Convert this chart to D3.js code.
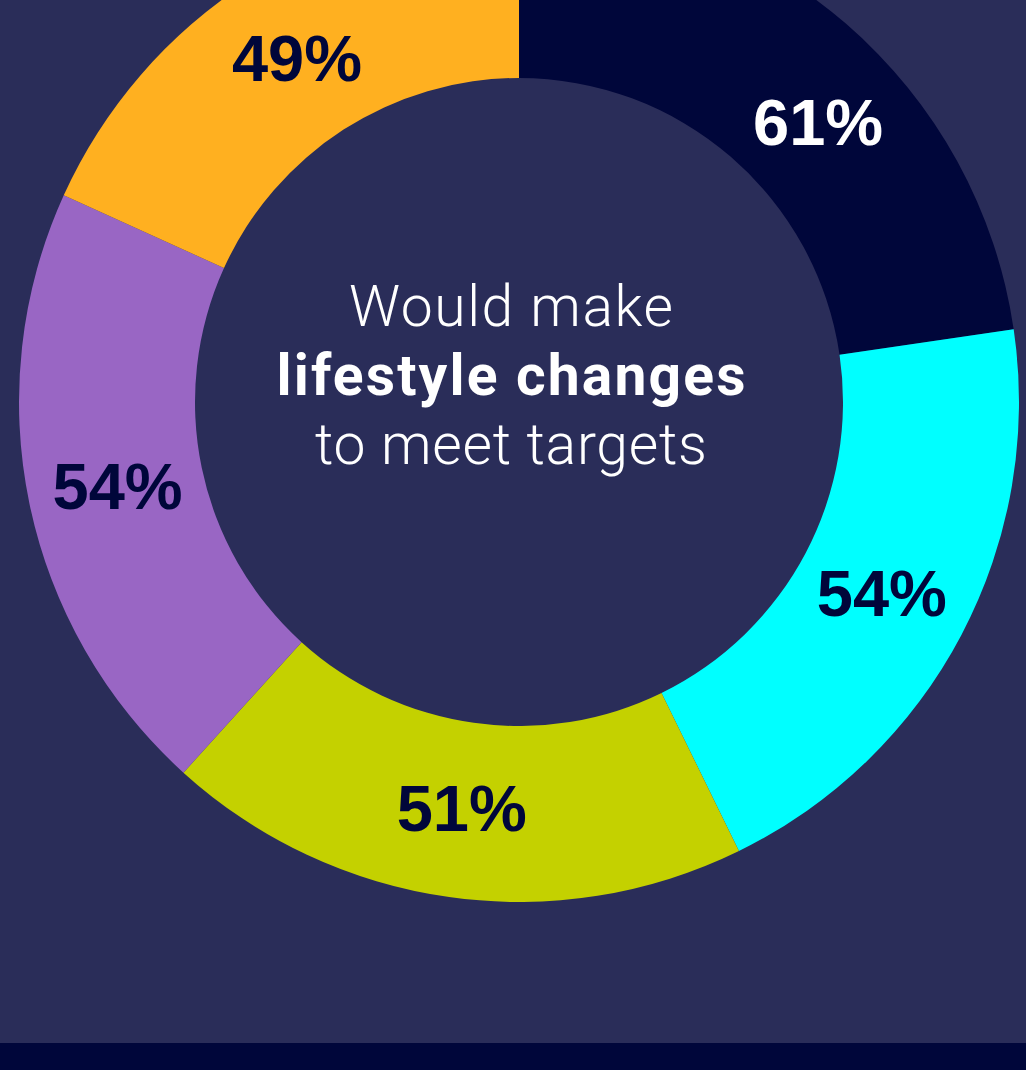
<!DOCTYPE html>
<html>
<head>
<meta charset="utf-8">
<script src="https://cdn.jsdelivr.net/npm/d3@7"></script>
<style>
  html, body { margin: 0; padding: 0; background: #2a2d59; }
  svg { display: block; }
</style>
</head>
<body>
<svg id="chart" width="1026" height="1070"></svg>
<script>
// Share of respondents in each group who would make lifestyle changes
const groups = ["Group A", "Group B", "Group C", "Group D", "Group E"];
const values = [61, 54, 51, 54, 49];
const sliceColors = ["#00063a", "#00ffff", "#c4d100", "#9966c4", "#ffb020"];
const labelColors = ["#ffffff", "#00063a", "#00063a", "#00063a", "#00063a"];
const centerLines = ["Would make", "lifestyle changes", "to meet targets"];

const W = 1026, H = 1070;
const cx = 519, cy = 402;
const outerR = 500, innerR = 324, labelR = 410;

const svg = d3.select("#chart");

svg.append("rect").attr("width", W).attr("height", H).attr("fill", "#2a2d59");
// footer band
svg.append("rect").attr("x", 0).attr("y", 1043).attr("width", W).attr("height", H - 1043).attr("fill", "#00063a");

const data = groups.map((g, i) => ({ group: g, value: values[i], i }));

const pie = d3.pie().sort(null).value(d => d.value);
const arcs = pie(data);

const arc = d3.arc().innerRadius(innerR).outerRadius(outerR);

const g = svg.append("g").attr("transform", `translate(${cx},${cy})`);

g.selectAll("path.slice")
  .data(arcs)
  .join("path")
  .attr("class", "slice")
  .attr("d", arc)
  .attr("fill", d => sliceColors[d.data.i]);

// the first label is nudged clockwise so it sits clear of the top edge
g.selectAll("text.value")
  .data(arcs)
  .join("text")
  .attr("class", "value")
  .attr("transform", d => {
    const shift = d.index === 0 ? 0.105 : 0;
    const a = (d.startAngle + d.endAngle) / 2 + shift;
    return `translate(${labelR * Math.sin(a)},${-labelR * Math.cos(a)})`;
  })
  .attr("text-anchor", "middle")
  .attr("dy", "0.36em")
  .attr("font-family", "'Liberation Sans', Arial, sans-serif")
  .attr("font-weight", 700)
  .attr("font-size", 65)
  .attr("fill", d => labelColors[d.data.i])
  .text(d => d.data.value + "%");

// centre caption: light / bold / light, stretched to the Helvetica-like widths
const lineWeights = [300, 700, 300];
const lineWidths = [324, 469, 392];

svg.append("g")
  .selectAll("text")
  .data(centerLines)
  .join("text")
  .attr("x", 511)
  .attr("y", (d, i) => 326 + i * 69)
  .attr("text-anchor", "middle")
  .attr("font-family", "Roboto, 'Liberation Sans', sans-serif")
  .attr("font-size", 57)
  .attr("font-weight", (d, i) => lineWeights[i])
  .attr("fill", "#ffffff")
  .attr("textLength", (d, i) => lineWidths[i])
  .attr("lengthAdjust", "spacing")
  .text(d => d);
</script>
</body>
</html>
